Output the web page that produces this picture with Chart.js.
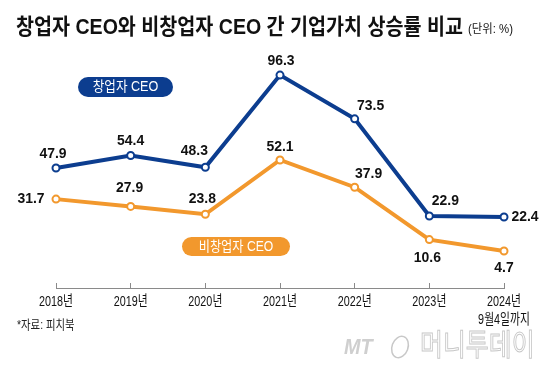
<!DOCTYPE html>
<html>
<head>
<meta charset="utf-8">
<script src="https://cdn.jsdelivr.net/npm/chart.js@4.4.1/dist/chart.umd.min.js"></script>
<style>
  html, body { margin: 0; padding: 0; background: #fff; }
  #chart { display: block; }
</style>
</head>
<body>
<canvas id="chart" width="560" height="374"></canvas>
<script>
// 데이터
const years = ['2018년', '2019년', '2020년', '2021년', '2022년', '2023년', ['2024년', '9월4일까지']];
const founderCEO = [47.9, 54.4, 48.3, 96.3, 73.5, 22.9, 22.4];
const nonFounderCEO = [31.7, 27.9, 23.8, 52.1, 37.9, 10.6, 4.7];
const seriesNames = ['창업자 CEO', '비창업자 CEO'];

const TITLE = '창업자 CEO와 비창업자 CEO 간 기업가치 상승률 비교';
const UNIT = '(단위: %)';
const SOURCE = '*자료: 피치북';

const BLUE = '#0c3d8f';
const ORANGE = '#f2982d';
const FONT = '"Liberation Sans", "Noto Sans CJK KR", sans-serif';

// 좁은 글꼴 흉내 (가로로 눌러서 그리기)
function drawNarrow(ctx, text, x, y, sx) {
    ctx.save();
    ctx.translate(x, y);
    ctx.scale(sx, 1);
    ctx.fillText(text, 0, 0);
    ctx.restore();
}

const titlePlugin = {
    id: 'titleText',
    afterDraw(chart) {
        const ctx = chart.ctx;
        ctx.save();
        ctx.fillStyle = '#111';
        ctx.textBaseline = 'middle';
        ctx.textAlign = 'left';
        ctx.font = 'bold 22px ' + FONT;
        const w = ctx.measureText(TITLE).width;
        drawNarrow(ctx, TITLE, 16, 28, 447 / w);
        ctx.font = '12px ' + FONT;
        const w2 = ctx.measureText(UNIT).width;
        drawNarrow(ctx, UNIT, 468, 30, 45 / w2);
        // 출처
        ctx.fillStyle = '#222';
        ctx.font = '13px ' + FONT;
        drawNarrow(ctx, SOURCE, 17, 325, 0.8);
        // 워터마크
        ctx.fillStyle = '#cfcfcf';
        ctx.font = 'italic bold 22px ' + FONT;
        drawNarrow(ctx, 'MT', 344, 348, 0.9);
        ctx.strokeStyle = '#c8c8c8';
        ctx.lineWidth = 1.5;
        ctx.beginPath();
        ctx.ellipse(400, 347, 8, 11, 0.35, 0, Math.PI * 2);
        ctx.stroke();
        ctx.font = '30px ' + FONT;
        ctx.lineWidth = 1;
        ctx.save();
        ctx.translate(420, 347);
        ctx.scale(0.83, 1);
        ctx.strokeText('머니투데이', 0, 0);
        ctx.restore();
        ctx.restore();
    }
};

// x축 라벨 (좁게)
const axisLabelPlugin = {
    id: 'axisLabels',
    afterDraw(chart) {
        const ctx = chart.ctx;
        const xs = chart.scales.x;
        const base = chart.chartArea.bottom;
        ctx.save();
        ctx.fillStyle = '#111';
        ctx.font = '15px ' + FONT;
        ctx.textAlign = 'center';
        ctx.textBaseline = 'middle';
        years.forEach((lbl, i) => {
            const x = xs.getPixelForTick(i);
            const lines = Array.isArray(lbl) ? lbl : [lbl];
            lines.forEach((t, j) => drawNarrow(ctx, t, x, base + 14 + j * 18, 0.72));
        });
        ctx.restore();
    }
};

// 값 라벨
const valueLabelPlugin = {
    id: 'valueLabels',
    afterDatasetsDraw(chart, args, opts) {
        const ctx = chart.ctx;
        ctx.save();
        ctx.fillStyle = '#111';
        ctx.font = 'bold 15px ' + FONT;
        ctx.textAlign = 'center';
        ctx.textBaseline = 'middle';
        chart.data.datasets.forEach((ds, di) => {
            const meta = chart.getDatasetMeta(di);
            meta.data.forEach((pt, i) => {
                const off = opts.offsets[di][i];
                drawNarrow(ctx, ds.data[i].toFixed(1), pt.x + off[0], pt.y + off[1], 0.93);
            });
        });
        ctx.restore();
    }
};

// 범례 알약
const pillPlugin = {
    id: 'pills',
    afterDatasetsDraw(chart, args, opts) {
        const ctx = chart.ctx;
        ctx.save();
        chart.data.datasets.forEach((ds, di) => {
            const p = opts.boxes[di];
            ctx.fillStyle = ds.borderColor;
            ctx.beginPath();
            ctx.roundRect(p.x, p.y, p.w, p.h, p.h / 2);
            ctx.fill();
            ctx.fillStyle = '#fff';
            ctx.font = '14px ' + FONT;
            ctx.textAlign = 'center';
            ctx.textBaseline = 'middle';
            drawNarrow(ctx, ds.label, p.x + p.w / 2, p.y + p.h / 2 + 0.5, p.sx);
        });
        ctx.restore();
    }
};

new Chart(document.getElementById('chart'), {
    type: 'line',
    data: {
        labels: years,
        datasets: [
            {
                label: seriesNames[0],
                data: founderCEO,
                borderColor: BLUE,
                backgroundColor: '#fff',
                borderWidth: 4,
                pointRadius: 3.5,
                pointBorderWidth: 2,
                pointBackgroundColor: '#fff',
                pointBorderColor: BLUE,
                tension: 0,
                clip: false
            },
            {
                label: seriesNames[1],
                data: nonFounderCEO,
                borderColor: ORANGE,
                backgroundColor: '#fff',
                borderWidth: 4,
                pointRadius: 3.5,
                pointBorderWidth: 2,
                pointBackgroundColor: '#fff',
                pointBorderColor: ORANGE,
                tension: 0,
                clip: false
            }
        ]
    },
    options: {
        responsive: false,
        animation: false,
        devicePixelRatio: 1,
        layout: { padding: { left: 56, right: 56, top: 68, bottom: 86 } },
        plugins: {
            legend: { display: false },
            tooltip: { enabled: false },
            valueLabels: {
                offsets: [
                    [[-3, -14], [0, -15], [-11, -16], [1, -14], [16, -13], [16, -15], [21, 0]],
                    [[-25, 0], [-1, -19], [-3, -15], [0, -13], [14, -13], [-2, 18], [0, 17]]
                ]
            },
            pills: {
                boxes: [
                    { x: 78, y: 77, w: 95, h: 20, sx: 0.9 },
                    { x: 182, y: 237, w: 108, h: 19, sx: 0.87 }
                ]
            }
        },
        scales: {
            x: {
                offset: false,
                afterFit: s => { s.height = 0; },
                grid: {
                    drawOnChartArea: false,
                    tickLength: -5,
                    color: '#8a8a8a',
                    lineWidth: 1
                },
                border: { display: true, color: '#8a8a8a', width: 1 },
                ticks: { display: false }
            },
            y: {
                display: false,
                min: -14.6,
                max: 100
            }
        }
    },
    plugins: [titlePlugin, axisLabelPlugin, valueLabelPlugin, pillPlugin]
});
</script>
</body>
</html>
